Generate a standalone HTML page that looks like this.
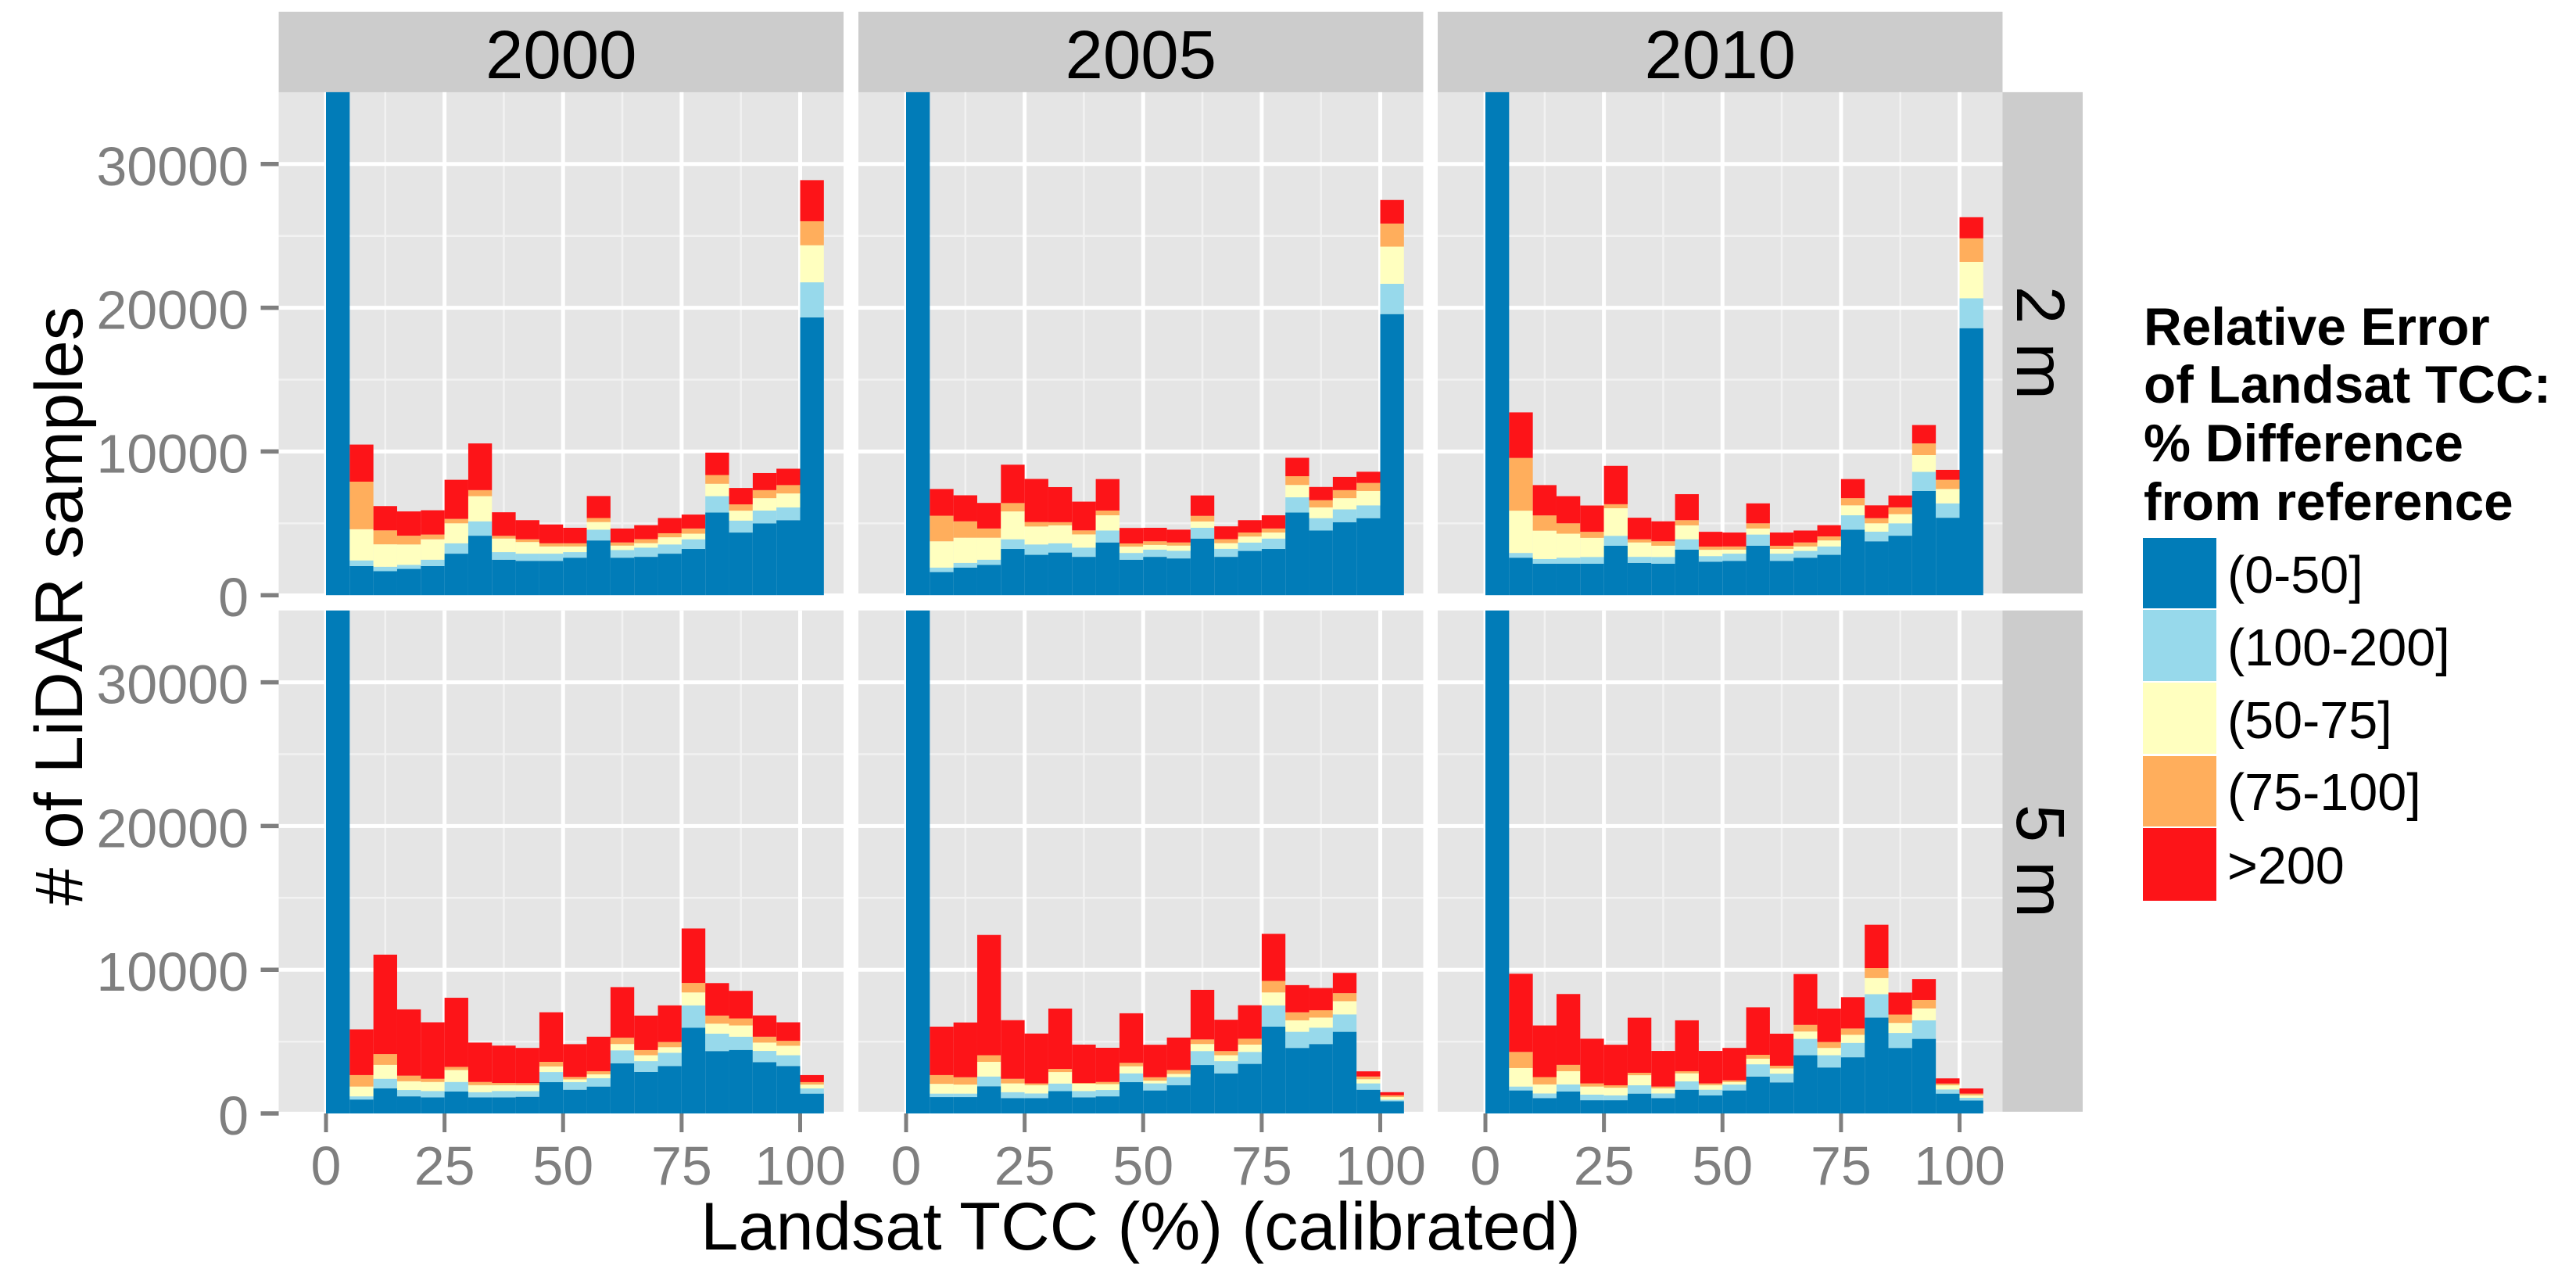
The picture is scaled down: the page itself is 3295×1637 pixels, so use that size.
<!DOCTYPE html>
<html lang="en">
<head>
<meta charset="utf-8">
<title>Landsat TCC relative error histograms</title>
<style>
html,body{margin:0;padding:0;background:#fff;}
svg{display:block;font-family:"Liberation Sans",sans-serif;}
</style>
</head>
<body>
<svg id="chart" xmlns="http://www.w3.org/2000/svg" width="3295" height="1637" viewBox="0 0 3295 1637">
  <rect x="0" y="0" width="3295" height="1637" fill="#ffffff"/>
  <g id="panels"></g>
  <text x="1459" y="1598" font-size="86.7" text-anchor="middle" fill="#000">Landsat TCC (%) (calibrated)</text>
  <text transform="translate(105,775) rotate(-90)" font-size="86.7" text-anchor="middle" fill="#000"># of LiDAR samples</text>
  <g>
    <g font-size="67.5" font-weight="bold" fill="#000">
      <text x="2742" y="441">Relative Error</text>
      <text x="2742" y="515">of Landsat TCC:</text>
      <text x="2742" y="590">% Difference</text>
      <text x="2742" y="665">from reference</text>
    </g>
    <rect x="2741" y="688" width="94" height="90" fill="#017cb8"/>
    <rect x="2741" y="780" width="94" height="91" fill="#97d9eb"/>
    <rect x="2741" y="873" width="94" height="91" fill="#ffffbf"/>
    <rect x="2741" y="967" width="94" height="90" fill="#ffae5c"/>
    <rect x="2741" y="1059" width="94" height="93" fill="#fd1418"/>
    <g font-size="66.5" fill="#000">
      <text x="2849" y="758">(0-50]</text>
      <text x="2849" y="851">(100-200]</text>
      <text x="2849" y="944">(50-75]</text>
      <text x="2849" y="1036">(75-100]</text>
      <text x="2849" y="1130">&gt;200</text>
    </g>
  </g>
</svg>
<script>
// ---- categories and tick labels ----
const years = ["2000", "2005", "2010"];
const heights = ["2 m", "5 m"];
const binStarts = [0,5,10,15,20,25,30,35,40,45,50,55,60,65,70,75,80,85,90,95,100];
const binWidth = 5;
const xTickLabels = [0, 25, 50, 75, 100];
const xMinorBreaks = [12.5, 37.5, 62.5, 87.5];
const yTickLabels = [0, 10000, 20000, 30000];
const yMinorBreaks = [5000, 15000, 25000];
const yMax = 35000;

// ---- series values (counts per bin), stacked bottom to top ----
// 2000, 2 m
const a2000m2Blue = [60000,2030,1670,1830,2030,2890,4140,2470,2390,2390,2610,3810,2610,2670,2890,3220,5750,4360,5000,5220,19330];
const a2000m2Light = [0,390,310,280,440,720,1000,530,500,500,390,750,530,640,640,670,1140,830,890,890,2440];
const a2000m2Yellow = [0,2170,1560,1420,1420,1390,1750,940,810,500,390,530,310,310,500,390,860,690,860,970,2580];
const a2000m2Orange = [0,3310,970,610,330,310,420,190,190,220,220,280,220,280,280,360,610,440,560,580,1670];
const a2000m2Red = [0,2580,1690,1690,1690,2720,3250,1640,1330,1310,1080,1530,970,970,1060,970,1560,1140,1190,1140,2860];
// 2005, 2 m
const a2005m2Blue = [60000,1610,1920,2110,3220,2810,2970,2670,3670,2470,2670,2560,3940,2670,3080,3220,5750,4500,5080,5360,19560];
const a2005m2Light = [0,310,330,360,670,720,640,640,830,470,500,530,750,560,580,720,1060,860,890,890,2110];
const a2005m2Yellow = [0,1830,1750,1530,1940,1250,1250,920,1060,440,330,360,440,390,420,420,860,750,780,1000,2580];
const a2005m2Orange = [0,1780,1140,640,580,310,220,280,330,220,250,220,390,280,280,280,610,500,560,560,1610];
const a2005m2Red = [0,1860,1810,1780,2670,3000,2440,2000,2190,1080,940,890,1420,890,860,920,1280,920,920,780,1640];
// 2010, 2 m
const a2010m2Blue = [60000,2610,2190,2190,2190,3440,2250,2190,3170,2330,2390,3440,2390,2610,2810,4560,3750,4140,7250,5390,18580];
const a2010m2Light = [0,330,330,420,470,690,420,470,720,390,500,780,500,470,580,1000,670,860,1330,1000,2080];
const a2010m2Yellow = [0,2940,1970,1670,1330,1920,1000,780,970,440,280,420,330,310,420,690,580,640,1170,1000,2530];
const a2010m2Orange = [0,3670,1060,720,420,280,220,310,360,220,220,360,220,280,280,500,360,470,810,640,1640];
const a2010m2Red = [0,3170,2110,1890,1830,2670,1500,1390,1810,1030,970,1390,920,830,780,1330,890,830,1280,690,1470];
// 2000, 5 m
const a2000m5Blue = [60000,970,1750,1190,1120,1530,1120,1120,1160,2180,1650,1870,3490,2890,3300,5970,4340,4420,3570,3300,1380];
const a2000m5Light = [0,220,660,440,440,660,360,440,390,700,530,580,900,750,920,1550,1210,920,780,750,360];
const a2000m5Yellow = [0,680,970,610,630,830,490,410,410,390,190,270,440,410,390,900,700,780,580,660,270];
const a2000m5Orange = [0,800,750,390,220,220,220,150,150,320,170,220,440,360,360,660,560,490,410,340,170];
const a2000m5Red = [0,3180,6920,4610,3930,4810,2740,2600,2450,3450,2280,2400,3520,2400,2550,3790,2260,1920,1480,1290,490];
// 2005, 5 m
const a2005m5Blue = [60000,1140,1140,1890,1070,1070,1550,1120,1190,2180,1600,1970,3370,2790,3450,6040,4560,4830,5680,1650,850];
const a2005m5Light = [0,240,240,680,410,320,530,440,440,610,490,560,970,850,830,1480,1120,1140,1210,440,100];
const a2005m5Yellow = [0,680,630,1020,610,580,800,510,410,490,190,220,490,410,510,900,800,700,920,290,190];
const a2005m5Orange = [0,610,510,460,320,120,220,50,150,240,240,270,320,290,410,800,560,510,560,190,120];
const a2005m5Red = [0,3370,3810,8370,4080,3470,4200,2670,2380,3450,2260,2260,3450,2180,2330,3280,1890,1550,1410,360,220];
// 2010, 5 m
const a2010m5Blue = [60000,1600,1070,1530,920,920,1380,1070,1650,1260,1600,2570,2160,4050,3200,3910,6670,4560,5190,1380,900];
const a2010m5Light = [0,270,320,490,390,340,580,320,580,390,410,850,610,1140,850,1000,1630,1040,1290,290,190];
const a2010m5Yellow = [0,1290,630,920,560,530,700,360,560,320,170,390,360,510,510,560,1120,700,830,290,170];
const a2010m5Orange = [0,1120,510,440,220,170,170,120,150,120,120,270,190,460,410,440,700,580,580,120,120];
const a2010m5Red = [0,5440,3590,4930,3110,2820,3830,2480,3540,2260,2260,3300,2230,3540,2330,2180,3010,1530,1460,360,360];

const seriesColors = ["#017cb8", "#97d9eb", "#ffffbf", "#ffae5c", "#fd1418"];
const seriesNames = ["0-50", "100-200", "50-75", "75-100", "over-200"];
const panelSeries = [
  [[a2000m2Blue, a2000m2Light, a2000m2Yellow, a2000m2Orange, a2000m2Red],
   [a2005m2Blue, a2005m2Light, a2005m2Yellow, a2005m2Orange, a2005m2Red],
   [a2010m2Blue, a2010m2Light, a2010m2Yellow, a2010m2Orange, a2010m2Red]],
  [[a2000m5Blue, a2000m5Light, a2000m5Yellow, a2000m5Orange, a2000m5Red],
   [a2005m5Blue, a2005m5Light, a2005m5Yellow, a2005m5Orange, a2005m5Red],
   [a2010m5Blue, a2010m5Light, a2010m5Yellow, a2010m5Orange, a2010m5Red]]
];

// ---- layout ----
const NS = "http://www.w3.org/2000/svg";
const root = document.getElementById("panels");
const defs = document.createElementNS(NS, "defs");
root.appendChild(defs);
const colLeft = [356.5, 1098, 1839];
const colZero = [417, 1159, 1900];
const panelWidth = 722.5;
const xUnit = 6.065;
const rowZero = [761.2, 1424];
const rowBottom = [759, 1421.8];
const yUnit = 0.01838;
const axisTickColor = "#7f7f7f";

function make(tag, attrs, parent) {
  const el = document.createElementNS(NS, tag);
  for (const k in attrs) el.setAttribute(k, attrs[k]);
  parent.appendChild(el);
  return el;
}
function xScale(col, v) { return colZero[col] + v * xUnit; }
function yScale(row, v) { return rowZero[row] - v * yUnit; }

for (let c = 0; c < years.length; c++) {
  const strip = make("rect", {x: colLeft[c], y: 15, width: panelWidth, height: 103, fill: "#cccccc"}, root);
  
  
  const stripText = make("text", {x: colLeft[c] + panelWidth / 2, y: 100, "font-size": 87, "text-anchor": "middle", fill: "#000"}, root);
  
  
  stripText.textContent = years[c];
}

for (let r = 0; r < heights.length; r++) {
  const top = yScale(r, yMax);
  const stripRect = make("rect", {x: 2561.5, y: top, width: 102.5, height: rowBottom[r] - top, fill: "#cccccc"}, root);
  
  
  const midY = (top + rowBottom[r]) / 2;
  const stripLabel = make("text", {transform: "translate(2580," + midY + ") rotate(90)", "font-size": 87, "text-anchor": "middle", fill: "#000"}, root);
  
  
  stripLabel.textContent = heights[r];

  // y axis ticks + labels
  yTickLabels.forEach(function (t) {
    const tickMark = make("line", {x1: 333.5, x2: 356.5, y1: yScale(r, t), y2: yScale(r, t), stroke: axisTickColor, "stroke-width": 5.5}, root);
    
    
    const tickText = make("text", {x: 318, y: yScale(r, t) + 27, "font-size": 70, "text-anchor": "end", fill: axisTickColor}, root);
    
    
    tickText.textContent = t;
  });

  for (let c = 0; c < years.length; c++) {
    const panel = make("g", {}, root);
    
    
    const bg = make("rect", {x: colLeft[c], y: top, width: panelWidth, height: rowBottom[r] - top, fill: "#e5e5e5"}, panel);
    
    

    yMinorBreaks.forEach(function (t) {
      const g = make("line", {x1: colLeft[c], x2: colLeft[c] + panelWidth, y1: yScale(r, t), y2: yScale(r, t), stroke: "#f2f2f2", "stroke-width": 2.5}, panel);
      
      
    });
    xMinorBreaks.forEach(function (t) {
      const g = make("line", {x1: xScale(c, t), x2: xScale(c, t), y1: top, y2: rowBottom[r], stroke: "#f2f2f2", "stroke-width": 2.5}, panel);
      
      
    });
    yTickLabels.slice(1).forEach(function (t) {
      const g = make("line", {x1: colLeft[c], x2: colLeft[c] + panelWidth, y1: yScale(r, t), y2: yScale(r, t), stroke: "#ffffff", "stroke-width": 5}, panel);
      
      
    });
    xTickLabels.forEach(function (t) {
      const g = make("line", {x1: xScale(c, t), x2: xScale(c, t), y1: top, y2: rowBottom[r], stroke: "#ffffff", "stroke-width": 5}, panel);
      
      
    });

    const clipId = "clip-" + r + "-" + c;
    const clip = make("clipPath", {id: clipId}, defs);
    make("rect", {x: colLeft[c], y: top, width: panelWidth, height: rowZero[r] - top + 1}, clip);
    const barGroup = make("g", {"clip-path": "url(#" + clipId + ")"}, panel);
    
    

    const series = panelSeries[r][c];
    binStarts.forEach(function (start, b) {
      let cum = 0;
      series.forEach(function (vals, s) {
        const v = vals[b];
        if (v <= 0) return;
        const y0 = yScale(r, cum);
        const y1 = yScale(r, cum + v);
        cum += v;
        const bar = make("rect", {
          x: xScale(c, start),
          width: xScale(c, start + binWidth) - xScale(c, start),
          y: y1,
          height: y0 - y1,
          fill: seriesColors[s]
        }, barGroup);
        
        
      });
    });

    if (r === heights.length - 1) {
      xTickLabels.forEach(function (t) {
        const tm = make("line", {x1: xScale(c, t), x2: xScale(c, t), y1: rowZero[r], y2: 1448, stroke: axisTickColor, "stroke-width": 5}, root);
        
        
        const tl = make("text", {x: xScale(c, t), y: 1515, "font-size": 70, "text-anchor": "middle", fill: axisTickColor}, root);
        
        
        tl.textContent = t;
      });
    }
  }
}
</script>
</body>
</html>
